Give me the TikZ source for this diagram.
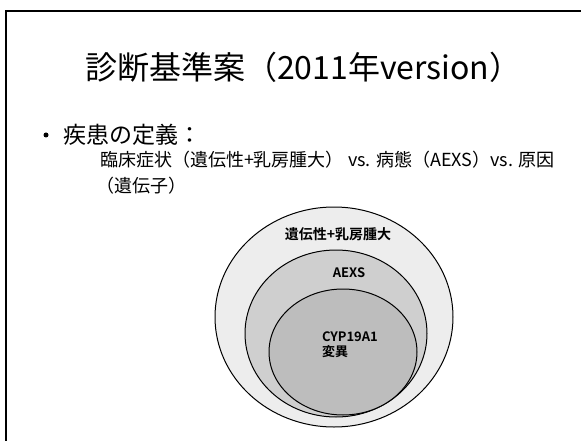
\documentclass[tikz,border=0pt]{standalone}
\usepackage{fontspec}
\setmainfont{Noto Sans CJK JP}
\newfontfamily\cjkbold{Noto Sans CJK JP Bold}
\begin{document}
\begin{tikzpicture}[x=1pt,y=-1pt,
  txt/.style={inner sep=0pt,outer sep=0pt},
  ell/.style={draw=black,line width=1pt},
  body/.style={txt,anchor=base west,font=\fontsize{18}{21}\selectfont},
  lbl/.style={txt,font=\fontsize{13}{15.5}\cjkbold}]
\useasboundingbox (0,0) rectangle (581,441);
\fill[white] (0,0) rectangle (581,441);
% frame
\coordinate (fl) at (6,441);
\coordinate (ftl) at (6,11);
\coordinate (ftr) at (581,11);
\draw[line width=1.3pt] (fl) -- (ftl) -- (ftr);
% title
\node[txt,anchor=base west,font=\fontsize{32}{36}\selectfont] (title) at (85,80) {診断基準案（2011年version）};
% bullet
\node[circle,fill=black,inner sep=0pt,minimum size=5pt] (bul) at (46,135) {};
\node[txt,anchor=base west,font=\fontsize{23}{26}\selectfont] (head) at (63,143) {疾患の定義：};
\node[body] (l1) at (100,167) {臨床症状（遺伝性+乳房腫大） vs. 病態（AEXS）vs. 原因};
\node[body] (l2) at (96,193) {（遺伝子）};
% ellipses
\path[ell,fill=black!7] (334,317) ellipse [x radius=119, y radius=110];
\path[ell,fill=black!19] (336,333.5) ellipse [x radius=91, y radius=83.5];
\path[ell,fill=black!26] (343,352) ellipse [x radius=74, y radius=63];
\node[lbl,font=\fontsize{14}{16}\cjkbold] (lo) at (338,234) {遺伝性+乳房腫大};
\node[lbl] (lm) at (349,273) {AEXS};
\node[lbl,anchor=west,align=left] (li) at (322,344.5) {CYP19A1\\変異};
\end{tikzpicture}
\end{document}
